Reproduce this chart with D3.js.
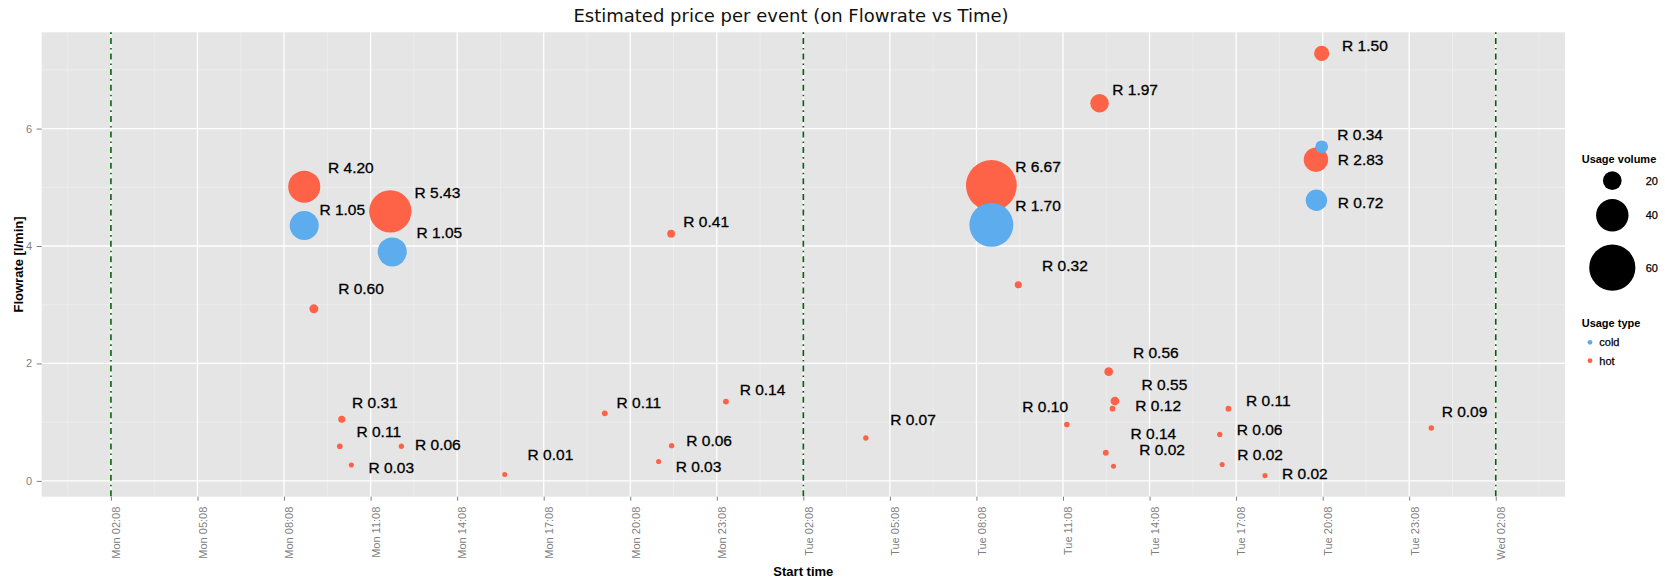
<!DOCTYPE html>
<html>
<head>
<meta charset="utf-8">
<script src="https://cdn.jsdelivr.net/npm/d3@7"></script>
<style>
  body { margin: 0; background: #fff; }
  text { font-family: "Liberation Sans", Arial, Helvetica, sans-serif; }
</style>
</head>
<body>
<div class="chart"></div>
<script>
// hot water events: start time, flowrate, price, volume, label position
var hotTime = ["Mon 08:50", "Mon 11:49", "Mon 09:10", "Mon 10:08", "Mon 10:04", "Mon 12:12", "Mon 10:28", "Mon 15:47",
  "Mon 21:33", "Mon 19:15", "Mon 21:34", "Mon 21:07", "Mon 23:27", "Tue 04:18", "Tue 08:39", "Tue 09:35", "Tue 11:16",
  "Tue 12:24", "Tue 12:43", "Tue 12:56", "Tue 12:51", "Tue 12:37", "Tue 12:53", "Tue 16:52", "Tue 16:34", "Tue 16:39",
  "Tue 18:08", "Tue 19:54", "Tue 20:06", "Tue 23:54"];
var hotFlow = [5.01, 4.59, 2.93, 1.05, 0.59, 0.59, 0.27, 0.11, 4.21, 1.15, 0.60, 0.33, 1.35, 0.73, 5.03, 3.34, 0.96,
  6.43, 1.86, 1.36, 1.23, 0.48, 0.25, 1.23, 0.79, 0.28, 0.09, 5.47, 7.28, 0.90];
var hotPrice = [4.20, 5.43, 0.60, 0.31, 0.11, 0.06, 0.03, 0.01, 0.41, 0.11, 0.06, 0.03, 0.14, 0.07, 6.67, 0.32, 0.10,
  1.97, 0.56, 0.55, 0.12, 0.14, 0.02, 0.11, 0.06, 0.02, 0.02, 2.83, 1.50, 0.09];
var hotVolume = [39.5, 54.3, 6.0, 3.1, 1.1, 0.6, 0.3, 0.1, 4.1, 1.1, 0.6, 0.3, 1.4, 0.7, 66.7, 3.2, 1.0,
  19.7, 5.6, 5.5, 1.2, 1.4, 0.2, 1.1, 0.6, 0.2, 0.2, 28.3, 15.0, 0.9];
var hotLabelTime = ["Mon 10:27", "Mon 13:27", "Mon 10:48", "Mon 11:17", "Mon 11:25", "Mon 13:28", "Mon 11:51", "Mon 17:22",
  "Mon 22:46", "Mon 20:26", "Mon 22:52", "Mon 22:30", "Tue 00:43", "Tue 05:56", "Tue 10:16", "Tue 11:12", "Tue 10:31",
  "Tue 13:38", "Tue 14:21", "Tue 14:39", "Tue 14:26", "Tue 14:16", "Tue 14:34", "Tue 18:15", "Tue 17:57", "Tue 17:58",
  "Tue 19:31", "Tue 21:27", "Tue 21:36", "Wed 01:03"];
var hotLabelFlow = [5.33, 4.91, 3.27, 1.33, 0.84, 0.62, 0.23, 0.44, 4.41, 1.33, 0.69, 0.25, 1.55, 1.05, 5.35, 3.67, 1.27,
  6.67, 2.18, 1.64, 1.28, 0.80, 0.54, 1.36, 0.87, 0.45, 0.13, 5.48, 7.42, 1.18];

// cold water events
var coldTime = ["Mon 08:50", "Mon 11:53", "Tue 08:39", "Tue 20:06", "Tue 19:55"];
var coldFlow = [4.35, 3.90, 4.36, 5.69, 4.78];
var coldPrice = [1.05, 1.05, 1.70, 0.34, 0.72];
var coldVolume = [35.0, 35.0, 56.7, 11.3, 24.0];
var coldLabelTime = ["Mon 10:09", "Mon 13:31", "Tue 10:16", "Tue 21:26", "Tue 21:27"];
var coldLabelFlow = [4.62, 4.23, 4.69, 5.89, 4.74];

// axis ticks, day marker lines, legend entries
var tickTimes = ["Mon 02:08", "Mon 05:08", "Mon 08:08", "Mon 11:08", "Mon 14:08", "Mon 17:08", "Mon 20:08", "Mon 23:08",
  "Tue 02:08", "Tue 05:08", "Tue 08:08", "Tue 11:08", "Tue 14:08", "Tue 17:08", "Tue 20:08", "Tue 23:08", "Wed 02:08"];
var yTicks = [0, 2, 4, 6];
var dayLines = ["Mon 02:08", "Tue 02:08", "Wed 02:08"];
var volumeBreaks = [20, 40, 60];
var usageTypes = ["cold", "hot"];

var colors = { cold: "#5CACEE", hot: "#FF6347" };

//svg and chart dimensions and margins
var svgWidth = 1665;
var svgHeight = 582;
var margin = { top: 32.3, right: 100, bottom: 85.3, left: 41.7 };
var chartWidth = svgWidth - margin.left - margin.right;
var chartHeight = svgHeight - margin.top - margin.bottom;

var svg = d3.select(".chart")
  .append("svg")
  .attr("width", svgWidth)
  .attr("height", svgHeight)
  .style("background", "#fff");

var chartGroup = svg.append("g")
  .attr("transform", `translate(${margin.left}, ${margin.top})`);

//"Mon 08:50" -> Date (any Monday will do)
var dayIndex = { Sun: -1, Mon: 0, Tue: 1, Wed: 2 };
function parseTime(s) {
  var parts = s.split(" ");
  var hm = parts[1].split(":");
  return new Date(2012, 9, 1 + dayIndex[parts[0]], +hm[0], +hm[1]);
}

//build rows
var events = [];
hotTime.forEach(function(t, i) {
  events.push({ type: "hot", time: parseTime(t), flow: hotFlow[i], price: hotPrice[i], volume: hotVolume[i],
    labelTime: parseTime(hotLabelTime[i]), labelFlow: hotLabelFlow[i] });
});
coldTime.forEach(function(t, i) {
  events.push({ type: "cold", time: parseTime(t), flow: coldFlow[i], price: coldPrice[i], volume: coldVolume[i],
    labelTime: parseTime(coldLabelTime[i]), labelFlow: coldLabelFlow[i] });
});

//x range is set by the day lines, expanded 5% like ggplot
var t0 = parseTime(dayLines[0]);
var t1 = parseTime(dayLines[dayLines.length - 1]);
var xPad = (t1 - t0) * 0.05;
var xScale = d3.scaleTime()
  .domain([new Date(+t0 - xPad), new Date(+t1 + xPad)])
  .range([0, chartWidth]);

var yExtent = d3.extent(events, d => d.flow);
var yPad = (yExtent[1] - yExtent[0]) * 0.05;
var yScale = d3.scaleLinear()
  .domain([yExtent[0] - yPad, yExtent[1] + yPad])
  .range([chartHeight, 0]);

var rScale = d3.scaleLinear()
  .domain(d3.extent(events, d => d.volume))
  .range([2.5, 25.4]);

//panel background
chartGroup.append("rect")
  .attr("width", chartWidth)
  .attr("height", chartHeight)
  .attr("fill", "#E5E5E5");

//grid lines
var ticks = tickTimes.map(parseTime);
var halfStep = 1.5 * 3600 * 1000;
var xMinor = ticks.map(t => new Date(+t - halfStep)).concat([new Date(+ticks[ticks.length - 1] + halfStep)])
  .filter(t => t >= xScale.domain()[0] && t <= xScale.domain()[1]);
var yMinor = yTicks.map(v => v + 1).filter(v => v <= yScale.domain()[1]);

chartGroup.selectAll(".xminor").data(xMinor).enter().append("line")
  .attr("x1", d => xScale(d)).attr("x2", d => xScale(d))
  .attr("y1", 0).attr("y2", chartHeight)
  .attr("stroke", "#F2F2F2").attr("stroke-width", 0.6);
chartGroup.selectAll(".yminor").data(yMinor).enter().append("line")
  .attr("x1", 0).attr("x2", chartWidth)
  .attr("y1", d => yScale(d)).attr("y2", d => yScale(d))
  .attr("stroke", "#F2F2F2").attr("stroke-width", 0.6);
chartGroup.selectAll(".xmajor").data(ticks).enter().append("line")
  .attr("x1", d => xScale(d)).attr("x2", d => xScale(d))
  .attr("y1", 0).attr("y2", chartHeight)
  .attr("stroke", "#fff").attr("stroke-width", 1.3);
chartGroup.selectAll(".ymajor").data(yTicks).enter().append("line")
  .attr("x1", 0).attr("x2", chartWidth)
  .attr("y1", d => yScale(d)).attr("y2", d => yScale(d))
  .attr("stroke", "#fff").attr("stroke-width", 1.3);

//day marker lines
chartGroup.selectAll(".dayline").data(dayLines.map(parseTime)).enter().append("line")
  .attr("x1", d => xScale(d)).attr("x2", d => xScale(d))
  .attr("y1", 0).attr("y2", chartHeight)
  .attr("stroke", "#006400").attr("stroke-width", 1.6)
  .attr("stroke-dasharray", "1.6,4,6,4");

//points: hot first, cold drawn on top
var ordered = events.filter(d => d.type === "hot").concat(events.filter(d => d.type === "cold"));
chartGroup.selectAll("circle.event")
  .data(ordered)
  .enter()
  .append("circle")
  .classed("event", true)
  .attr("cx", d => xScale(d.time))
  .attr("cy", d => yScale(d.flow))
  .attr("r", d => rScale(d.volume))
  .attr("fill", d => colors[d.type]);

//price labels (thin stroke to get the heavier look of the original)
chartGroup.selectAll("text.price")
  .data(events)
  .enter()
  .append("text")
  .classed("price", true)
  .attr("x", d => xScale(d.labelTime))
  .attr("y", d => yScale(d.labelFlow))
  .attr("dy", "0.35em")
  .attr("text-anchor", "middle")
  .attr("font-size", 15.5)
  .attr("fill", "#000")
  .attr("stroke", "#000")
  .attr("stroke-width", 0.3)
  .text(d => "R " + d.price.toFixed(2));

//axes
var bottomAxis = d3.axisBottom(xScale)
  .tickValues(ticks)
  .tickFormat(d3.timeFormat("%a %H:%M"))
  .tickSize(4)
  .tickSizeOuter(0);
var xAxis = chartGroup.append("g")
  .attr("transform", `translate(0, ${chartHeight})`)
  .call(bottomAxis);
xAxis.select(".domain").remove();
xAxis.selectAll("line").attr("stroke", "#7F7F7F");
xAxis.selectAll("text")
  .attr("fill", "#7F7F7F")
  .attr("font-size", 11)
  .attr("text-anchor", "end")
  .attr("transform", "rotate(-90)")
  .attr("x", -10)
  .attr("y", 0)
  .attr("dy", "0.8em");

var leftAxis = d3.axisLeft(yScale)
  .tickValues(yTicks)
  .tickSize(5)
  .tickPadding(4.5)
  .tickSizeOuter(0);
var yAxis = chartGroup.append("g").call(leftAxis);
yAxis.select(".domain").remove();
yAxis.selectAll("line").attr("stroke", "#7F7F7F");
yAxis.selectAll("text").attr("fill", "#7F7F7F").attr("font-size", 11);

//title and axis titles
svg.append("text")
  .attr("x", 791)
  .attr("y", 21.7)
  .attr("text-anchor", "middle")
  .style("font-family", "'DejaVu Sans', sans-serif")
  .attr("font-size", 18)
  .attr("fill", "#111")
  .text("Estimated price per event (on Flowrate vs Time)");

svg.append("text")
  .attr("x", margin.left + chartWidth / 2)
  .attr("y", 576)
  .attr("text-anchor", "middle")
  .attr("font-size", 13)
  .attr("font-weight", "bold")
  .text("Start time");

svg.append("text")
  .attr("transform", `translate(18.3, ${margin.top + chartHeight / 2}) rotate(-90)`)
  .attr("text-anchor", "middle")
  .attr("dy", "0.35em")
  .attr("font-size", 13)
  .attr("font-weight", "bold")
  .text("Flowrate [l/min]");

//legend: usage volume
var legend = svg.append("g");
legend.append("text")
  .attr("x", 1581.7).attr("y", 163.3)
  .attr("font-size", 11).attr("font-weight", "bold")
  .text("Usage volume");

var volumeY = [180.7, 215.3, 267.7];
volumeBreaks.forEach(function(v, i) {
  legend.append("circle")
    .attr("cx", 1612.3).attr("cy", volumeY[i])
    .attr("r", rScale(v))
    .attr("fill", "#000");
  legend.append("text")
    .attr("x", 1645.7).attr("y", volumeY[i])
    .attr("dy", "0.35em")
    .attr("font-size", 11)
    .attr("stroke", "#000")
    .attr("stroke-width", 0.25)
    .text(v);
});

//legend: usage type
legend.append("text")
  .attr("x", 1581.7).attr("y", 326.7)
  .attr("font-size", 11).attr("font-weight", "bold")
  .text("Usage type");

usageTypes.forEach(function(t, i) {
  var cy = 342.3 + i * 18.4;
  legend.append("circle")
    .attr("cx", 1590).attr("cy", cy)
    .attr("r", 2.4)
    .attr("fill", colors[t]);
  legend.append("text")
    .attr("x", 1599.3).attr("y", cy)
    .attr("dy", "0.35em")
    .attr("font-size", 11)
    .attr("stroke", "#000")
    .attr("stroke-width", 0.25)
    .text(t);
});
</script>
</body>
</html>
